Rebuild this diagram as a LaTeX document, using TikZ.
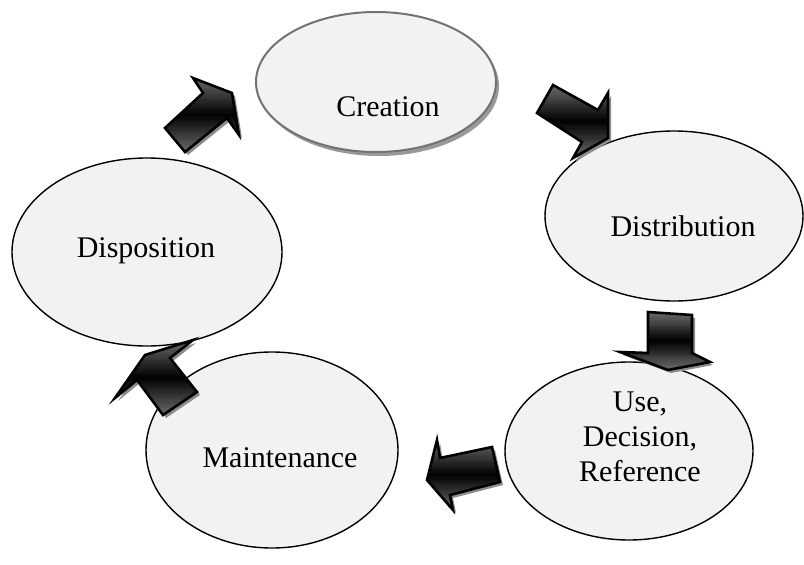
\documentclass[tikz,border=0pt]{standalone}
\usepackage{fontspec}
\setmainfont{Liberation Serif}
\usetikzlibrary{shapes.geometric}
\begin{document}
\begin{tikzpicture}[x=1pt,y=-1pt,
  phase/.style={ellipse, draw=black, line width=1.4pt, fill=black!5, inner sep=0pt},
  phasetext/.style={font=\fontsize{30}{35}\selectfont, align=center, text=black},
  arrowoutline/.style={draw=black, line width=2.6pt, line join=miter},
  arrowshadow/.style={fill=black!45, shift={(3,3)}}]
\useasboundingbox (0,0) rectangle (804,565);
% shadow of Creation
\fill[black!40] (379,86) ellipse [x radius=120, y radius=70];
\node[phase, draw=black!55, line width=2pt, minimum width=240pt, minimum height=140pt,
  label={[phasetext, xshift=12pt, yshift=-25pt]center:Creation}] (creation) at (376,82) {};
\node[phase, minimum width=258pt, minimum height=170pt,
  label={[phasetext, xshift=9pt, yshift=-10pt]center:Distribution}] (distribution) at (674,216) {};
\node[phase, minimum width=248pt, minimum height=178pt,
  label={[phasetext, xshift=11pt, yshift=14pt]center:Use,\\Decision,\\Reference}] (use) at (629,451) {};
\node[phase, minimum width=252pt, minimum height=196pt,
  label={[phasetext, xshift=8pt, yshift=-8pt]center:Maintenance}] (maintenance) at (272,450) {};
\node[phase, minimum width=270pt, minimum height=188pt,
  label={[phasetext, xshift=-1pt, yshift=1pt]center:Disposition}] (disposition) at (147,252) {};
% block arrows: shadow, banded gradient (grey-black-grey), outline
\newcommand{\myblockarrow}[3]{%
  \fill[arrowshadow] #3;
  \begin{scope}
    \clip #3;
    \foreach \i in {0,...,29} {
      \pgfmathsetmacro\tt{(\i+0.5)/30}
      \pgfmathsetmacro\dd{100-42*abs(2*\tt-1)}
      \fill[black!\dd] (0,{#1+(#2-#1)*\i/30}) rectangle (804,{#1+(#2-#1)*(\i+1)/30+0.6});
    }
  \end{scope}
  \path[arrowoutline] #3;}
\myblockarrow{78}{152}{(165,128) -- (203,93) -- (193,78) -- (232,93) -- (239,135) -- (227,118) -- (185,152) -- cycle}
\myblockarrow{85}{158}{(553,85) -- (598,110) -- (608,93) -- (608,138) -- (573,158) -- (582,142) -- (537,113) -- cycle}
\myblockarrow{312}{370}{(648,312) -- (692,315) -- (692,353) -- (710,362) -- (668,370) -- (620,352) -- (648,353) -- cycle}
\myblockarrow{440}{510}{(492,447) -- (440,458) -- (437,440) -- (427,480) -- (453,510) -- (450,495) -- (500,482) -- cycle}
\myblockarrow{340}{415}{(197,392) -- (170,358) -- (193,340) -- (145,355) -- (115,398) -- (137,380) -- (163,415) -- cycle}
\end{tikzpicture}
\end{document}
